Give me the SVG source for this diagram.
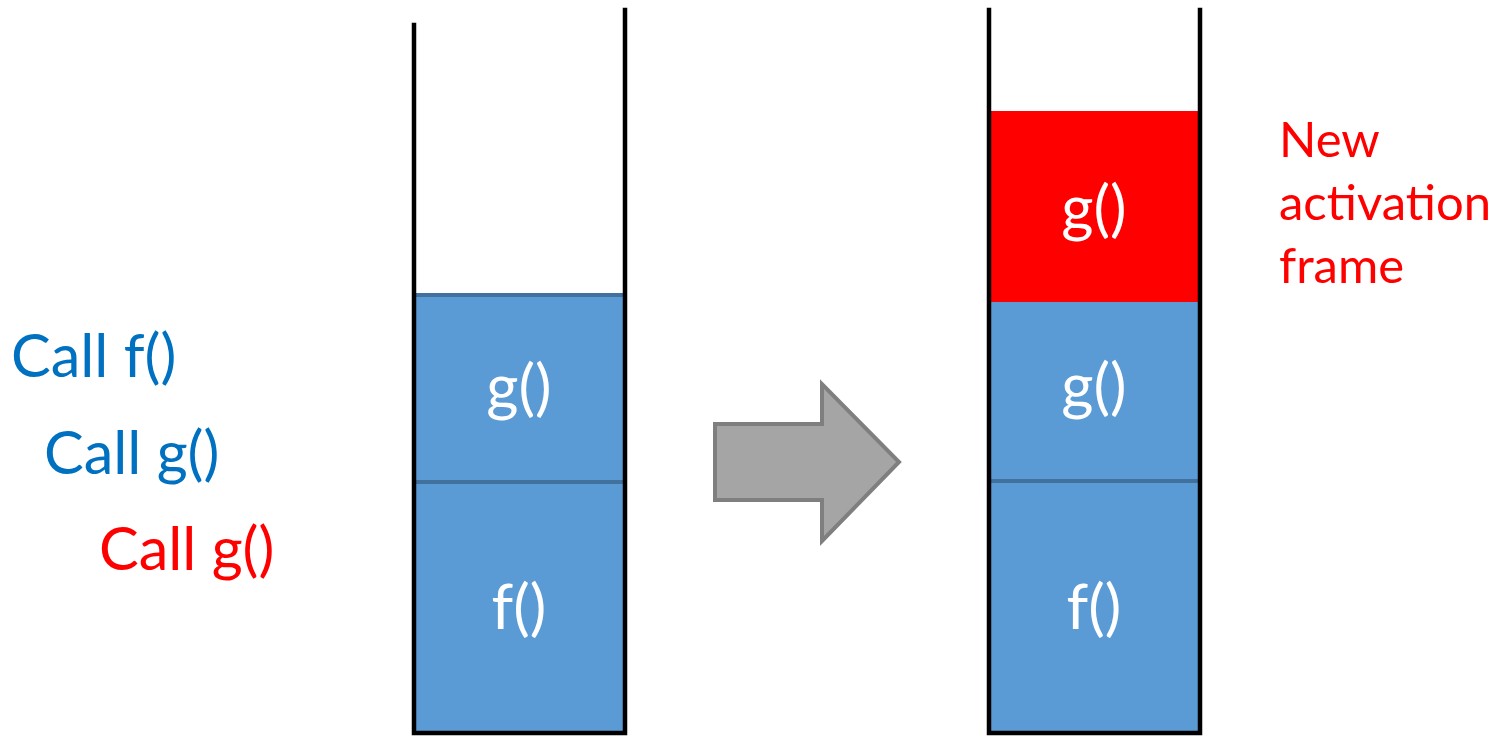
<svg xmlns="http://www.w3.org/2000/svg" width="1498" height="736" viewBox="0 0 1498 736">
<style>
.wall{stroke:#000;stroke-width:4.5;fill:none;stroke-linecap:square}
.frame{fill:#5B9BD5}
.div{stroke:#41719C;stroke-width:4}
.lbl{font-family:Lato,"Open Sans",sans-serif;font-size:62px;fill:#fff;text-anchor:middle}
.call{font-family:Lato,"Open Sans",sans-serif;font-size:59.5px}
.note{font-family:Lato,"Open Sans",sans-serif;font-size:49px;fill:#FF0000}
</style>
<rect width="1498" height="736" fill="#fff"/>
<g id="left-stack">
<rect class="frame" x="414" y="295" width="211" height="438"/>
<line class="div" x1="416" y1="295" x2="623" y2="295"/>
<line class="div" x1="416" y1="482" x2="623" y2="482"/>
<text class="lbl" x="519" y="409">g()</text>
<text class="lbl" x="519" y="629">f()</text>
<path class="wall" d="M414,25 V733 H625 V10"/>
</g>
<g id="right-stack">
<rect x="989" y="111" width="211" height="191" fill="#FF0000"/>
<rect class="frame" x="989" y="302" width="211" height="431"/>
<line class="div" x1="990" y1="481" x2="1198" y2="481"/>
<text class="lbl" x="1094" y="230">g()</text>
<text class="lbl" x="1094" y="408">g()</text>
<text class="lbl" x="1094" y="629">f()</text>
<path class="wall" d="M989,10 V733 H1200 V10"/>
</g>
<g id="arrow">
<polygon points="715,424 822,424 822,384 899,462 822,541 822,500 715,500" fill="#A5A5A5" stroke="#7F7F7F" stroke-width="4"/>
</g>
<g id="calls">
<text class="call" x="11" y="377" fill="#0070C0">Call f()</text>
<text class="call" x="44" y="474" fill="#0070C0">Call g()</text>
<text class="call" x="99" y="570" fill="#FF0000">Call g()</text>
</g>
<g id="note">
<text class="note" x="1279" y="157">New</text>
<text class="note" x="1279" y="220">activation</text>
<text class="note" x="1279" y="283">frame</text>
</g>
</svg>
